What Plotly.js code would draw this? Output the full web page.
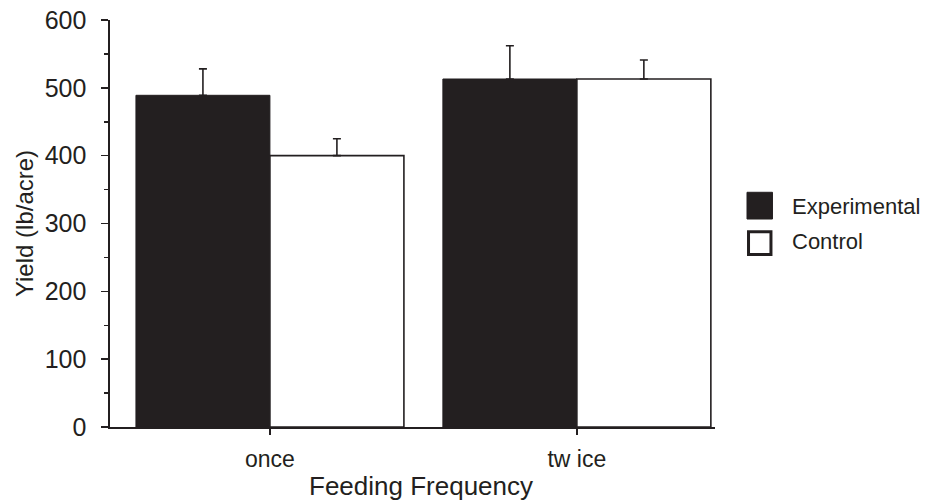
<!DOCTYPE html>
<html>
<head>
<meta charset="utf-8">
<script src="https://cdn.plot.ly/plotly-3.0.1.min.js"></script>
<style>html,body{margin:0;padding:0;background:#fff;}#chart{width:938px;height:504px;}</style>
</head>
<body>
<div id="chart"></div>
<script>
const categories = ["once", "tw ice"];
const seriesNames = ["Experimental", "Control"];
const experimentalValues = [489, 513];
const experimentalErrors = [39, 49];
const controlValues = [400, 513];
const controlErrors = [25, 28];
const yTickValues = [0, 100, 200, 300, 400, 500, 600];
const xTitle = "Feeding Frequency";
const yTitle = "Yield (lb/acre)";

const ink = "#231f20";
const font = "Liberation Sans, Arial, sans-serif";

const traces = [
  {
    type: "bar", name: seriesNames[0], x: categories, y: experimentalValues,
    marker: {color: ink, line: {color: ink, width: 1}},
    error_y: {type: "data", array: experimentalErrors, arrayminus: [0, 0], symmetric: false,
              color: ink, thickness: 1.6, width: 4},
    showlegend: false
  },
  {
    type: "bar", name: seriesNames[1], x: categories, y: controlValues,
    marker: {color: "#ffffff", line: {color: ink, width: 1.6}},
    error_y: {type: "data", array: controlErrors, arrayminus: [0, 0], symmetric: false,
              color: ink, thickness: 1.6, width: 4},
    showlegend: false
  }
];

const layout = {
  width: 938, height: 504,
  margin: {l: 110, r: 223, t: 20, b: 77},
  paper_bgcolor: "#fff", plot_bgcolor: "#fff",
  barmode: "group", bargap: 0.127, bargroupgap: 0,
  font: {family: font, color: ink},
  xaxis: {
    range: [-0.521, 1.45], showgrid: false, zeroline: false,
    showline: true, linecolor: ink, linewidth: 1.6,
    ticks: "outside", ticklen: 6, tickwidth: 1.5, tickcolor: ink,
    tickfont: {size: 23, family: font, color: ink},
    ticklabelstandoff: 5
  },
  yaxis: {
    range: [0, 600], showgrid: false, zeroline: false,
    showline: true, linecolor: ink, linewidth: 1.6,
    tickvals: yTickValues, ticktext: yTickValues.map(String),
    ticks: "outside", ticklen: 7, tickwidth: 1.5, tickcolor: ink,
    minor: {dtick: 50, tick0: 0, ticks: "outside", ticklen: 4, tickwidth: 1.5, tickcolor: ink, showgrid: false},
    tickfont: {size: 25, family: font, color: ink},
    ticklabelstandoff: 10,
    title: {text: yTitle, font: {size: 24, family: font, color: ink}, standoff: 4}
  },
  shapes: [
    {type: "rect", xref: "paper", yref: "paper", x0: 1.0529, x1: 1.095, y0: 0.5767, y1: 0.511,
     fillcolor: ink, line: {color: ink, width: 1}},
    {type: "rect", xref: "paper", yref: "paper", x0: 1.0554, x1: 1.0925, y0: 0.480, y1: 0.424,
     fillcolor: "#fff", line: {color: ink, width: 3}}
  ],
  annotations: [
    {xref: "paper", yref: "paper", x: 1.124, y: 0.541, xanchor: "left", yanchor: "middle",
     text: seriesNames[0], showarrow: false, font: {size: 22, family: font, color: ink}},
    {xref: "paper", yref: "paper", x: 1.124, y: 0.457, xanchor: "left", yanchor: "middle",
     text: seriesNames[1], showarrow: false, font: {size: 22, family: font, color: ink}},
    {xref: "paper", yref: "paper", x: 0.514, y: -0.145, xanchor: "center", yanchor: "middle",
     text: xTitle, showarrow: false, font: {size: 26, family: font, color: ink}}
  ]
};

Plotly.newPlot("chart", traces, layout, {displayModeBar: false, staticPlot: true});
</script>
</body>
</html>
